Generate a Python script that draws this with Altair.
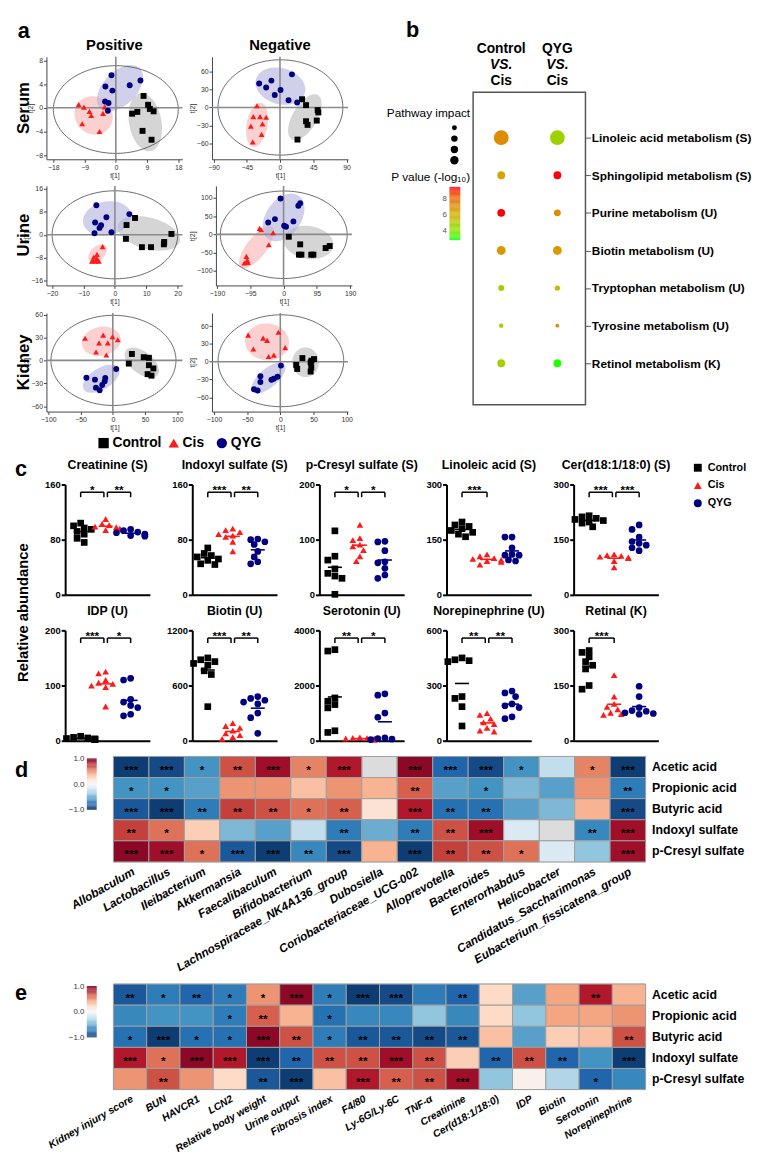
import altair as alt
import numpy as np
import pandas as pd

FONT = "Liberation Sans"
GROUPS = ["Control", "Cis", "QYG"]
G_COLORS = ["#000000", "#ff1a1a", "#000080"]
G_SHAPES = ["square", "triangle-up", "circle"]
FILL_COLORS = {"Control": "#b9b9b9", "Cis": "#f6b0b0", "QYG": "#b0b0dc"}

# ---------------- panel a : score plots (t[1], t[2]) ----------------
SERUM_POS = {
    "Control": [(8.0, 2.0), (9.3, 0.5), (9.8, -0.2), (10.9, -0.6), (6.2, -0.7), (4.7, -1.0), (7.7, -3.9), (10.3, -5.4)],
    "Cis": [(-10.7, 0.55), (-9.2, 0.1), (-7.6, -0.6), (-7.1, -1.3), (-9.7, -2.7), (-4.7, -4.0), (-3.7, -0.95), (-3.2, 0.15)],
    "QYG": [(-1.25, 5.5), (-3.0, 3.6), (-1.0, 2.9), (4.0, 3.8), (7.1, 4.6), (-3.1, 1.05), (-2.1, 0.8), (-2.3, -0.5)],
}
SERUM_NEG = {
    "Control": [(29.9, 13.8), (35.3, 3.9), (51, -4.4), (51.9, -8.3), (35.3, -23.1), (37.3, -29.2), (49.8, -22), (23.7, -53.9)],
    "Cis": [(-31.1, 2.8), (-36.1, -15.4), (-27, -15.4), (-18.7, -16.5), (-39.4, -31.4), (-23.7, -27.5), (-24.9, -45.1), (-36.9, -57.8)],
    "QYG": [(-28.2, 40.2), (-18.7, 33.6), (-11.6, 45.1), (-7.1, 20.9), (0.8, 29.2), (16.2, 55.6), (11.6, 12.1), (23.2, 8.3)],
}
URINE_POS = {
    "Control": [(6.4, 5.85), (3.7, 3.4), (3.5, -1.4), (8.6, -4.3), (11.5, -4.3), (15.7, -2.5), (15.6, -3.3), (18.0, 0.3)],
    "Cis": [(-3.9, -4.1), (-5.7, -6.8), (-6.7, -7.7), (-7.3, -9.2), (-6.1, -9.2), (-5.1, -9.2), (-5.7, -8.3), (-6.9, -9.0)],
    "QYG": [(-5.9, 10.3), (-6.3, 4.3), (-2.7, 6.1), (-4.4, 3.3), (-4.9, 2.4), (-6.5, 0.55), (-1.1, 0.9), (4.6, 7.2)],
}
URINE_NEG = {
    "Control": [(14.9, -6.4), (47.4, -27.3), (43.9, -55.6), (50.9, -55.6), (79, -55.6), (85, -55.6), (120, -37.4), (131.6, -31.9)],
    "Cis": [(-68.4, 16.4), (-64, 12.8), (-29.8, 4.6), (-42.1, -28.3), (-106, -60.2), (-103.5, -71.1), (-112, -78.4), (-101.8, -76.6)],
    "QYG": [(-8.8, 98.5), (42.1, 78.4), (47.4, 85.7), (-24.6, 41.9), (-43.9, 32.8), (1.8, 23.7), (7, 21), (28, 35.6)],
}
KIDNEY_POS = {
    "Control": [(29.6, 8.4), (24.8, -4.2), (48, 4.2), (56, 3.4), (56, -6.3), (63, -10.5), (54, -18), (60, -20)],
    "Cis": [(-43, 29), (-15, 33), (-21.4, 23), (-7.8, 23), (-0.5, 31), (7.8, 27), (-26, 11), (-10, 7)],
    "QYG": [(-41, -22.7), (-27.7, -25.2), (-11.7, -23), (-12.6, -27.3), (-16.5, -32.3), (-26.2, -35.7), (-20.4, -39), (5.3, -11.3)],
}
KIDNEY_NEG = {
    "Control": [(33.3, 6.1), (24, -5.5), (25.4, -12.2), (45.7, -1.1), (50.8, 4.4), (46.7, -9.4), (45.7, -16.6), (47, 1.7)],
    "Cis": [(-48.5, 44.8), (-40.6, 21.5), (-25.9, 39.8), (-19.9, 35.9), (-2.8, 49.7), (7.4, 23.8), (-17.6, 8.8), (-9.7, 11)],
    "QYG": [(0.9, -6.6), (-30, -24.3), (-30, -34.3), (-39.7, -46.4), (-34.2, -48.6), (-13.4, -30.4), (-9.7, -28.7), (-4.2, -25.4)],
}
# group ellipses: centre (cx, cy) and two semi-axis vectors (ux, uy), (vx, vy)
SERUM_POS_ELL = {"Control": (8.5, -2.45, 2.0, -4.8, 4.4, 1.0), "Cis": (-6.4, -1.3, 5.5, -0.5, 0.4, 3.2),
                 "QYG": (1.2, 3.3, 6.5, 2.5, -1.3, 3.0)}
SERUM_NEG_ELL = {"Control": (33.6, -16.5, 15, 38.5, 17, -4), "Cis": (-31, -29, 5, 37, 14, -2),
                 "QYG": (0.6, 35.8, 33, -12, 7, 29)}
URINE_POS_ELL = {"Control": (10.8, 0.5, 9.8, -3.0, 1.5, 5.2), "Cis": (-5.5, -6.5, 2.2, 3.0, 2.0, -1.2),
                 "QYG": (-2.5, 5.7, 7.6, 1.5, -0.8, 5.8)}
URINE_NEG_ELL = {"Control": (71, -22, 71, -8, 3, 45), "Cis": (-77, -35.6, 45, 55, -22, 17),
                 "QYG": (0, 46.5, 45, 58, -39, 30)}
KIDNEY_POS_ELL = {"Control": (45, -3, 26, -14, 6, 14), "Cis": (-18, 25, 30, 3, -1, 19),
                  "QYG": (-18, -24, 28, 12, 4, -14)}
KIDNEY_NEG_ELL = {"Control": (38, -1, 20, 0, 0, 25), "Cis": (-20, 33.4, 33, -3, 2, 31),
                  "QYG": (-17.8, -27.3, 24, 23, -9, 12)}
SERUM_POS_HOT = (0.0, -0.3, 18.0, 7.4)
SERUM_NEG_HOT = (0.6, 0.0, 84.5, 80.0)
URINE_POS_HOT = (0.0, 0.0, 20.0, 15.3)
URINE_NEG_HOT = (0.5, -1.0, 181.0, 120.0)
KIDNEY_POS_HOT = (1.0, 0.0, 97.0, 59.0)
KIDNEY_NEG_HOT = (0.9, 1.6, 94.7, 77.4)

# ---------------- panel b : pathway bubbles ----------------
PATHWAYS = ["Linoleic acid metabolism (S)", "Sphingolipid metabolism (S)", "Purine metabolism (U)",
            "Biotin metabolism (U)", "Tryptophan metabolism (U)", "Tyrosine metabolism (U)", "Retinol metabolism (K)"]
COMPARISONS = ["Control VS. Cis", "QYG VS. Cis"]
IMPACT_CONTROL = [1.0, 0.28, 0.28, 0.36, 0.16, 0.09, 0.28]
IMPACT_QYG = [1.0, 0.28, 0.22, 0.36, 0.13, 0.07, 0.28]
LOGP_CONTROL = [7.0, 6.3, 9.2, 6.6, 4.6, 4.6, 4.7]
LOGP_QYG = [4.6, 9.2, 7.0, 6.6, 5.5, 7.0, 3.0]
IMPACT_KEY = [0.11, 0.19, 0.25, 0.32]
LOGP_KEY_RANGE = [2.75, 9.5]

# ---------------- panel c : relative abundance ----------------
DOT_TITLES = ["Creatinine (S)", "Indoxyl sulfate (S)", "p-Cresyl sulfate (S)", "Linoleic acid (S)", "Cer(d18:1/18:0) (S)",
              "IDP (U)", "Biotin (U)", "Serotonin (U)", "Norepinephrine (U)", "Retinal (K)"]
DOT_YMAX = [160, 160, 200, 300, 300, 200, 1200, 4000, 600, 300]
DOT_CONTROL = [
    [104, 100, 97, 95, 92, 88, 82, 76],
    [68, 60, 57, 55, 52, 50, 45, 44],
    [116, 70, 63, 47, 39, 34, 30, 1],
    [198, 190, 186, 180, 175, 170, 165, 158],
    [215, 212, 208, 205, 202, 198, 195, 185],
    [8, 6, 5, 4, 3, 3, 2, 2],
    [900, 880, 860, 840, 820, 760, 720, 370],
    [3300, 3250, 1550, 1430, 1310, 1190, 360, 300],
    [450, 440, 435, 430, 240, 230, 185, 80],
    [245, 240, 228, 215, 205, 195, 150, 140],
]
DOT_CIS = [
    [110, 103, 101, 99, 98, 96, 95, 94],
    [96, 94, 91, 88, 86, 84, 77, 63],
    [127, 103, 99, 91, 88, 81, 70, 61],
    [110, 105, 100, 98, 95, 92, 90, 82],
    [110, 108, 106, 104, 102, 100, 92, 75],
    [125, 122, 110, 105, 103, 100, 97, 62],
    [190, 160, 140, 110, 80, 60, 40, 20],
    [120, 100, 90, 80, 70, 60, 50, 40],
    [150, 140, 120, 100, 90, 70, 55, 50],
    [178, 120, 100, 92, 85, 76, 72, 70],
]
DOT_QYG = [
    [95, 93, 91, 90, 88, 87, 86, 85],
    [81, 80, 77, 73, 63, 55, 48, 45],
    [97, 96, 80, 60, 58, 48, 36, 30],
    [157, 157, 128, 110, 108, 108, 95, 92],
    [190, 178, 157, 145, 140, 135, 128, 120],
    [113, 110, 75, 70, 64, 60, 48, 45],
    [480, 460, 440, 420, 400, 300, 250, 80],
    [1700, 1650, 1000, 850, 100, 80, 60, 40],
    [270, 260, 240, 200, 190, 180, 130, 120],
    [148, 120, 90, 82, 80, 76, 74, 72],
]
# significance: (label, group a, group b)
DOT_SIGS = [
    [("*", 0, 1), ("**", 1, 2)],
    [("***", 0, 1), ("**", 1, 2)],
    [("*", 0, 1), ("*", 1, 2)],
    [("***", 0, 1)],
    [("***", 0, 1), ("***", 1, 2)],
    [("***", 0, 1), ("*", 1, 2)],
    [("***", 0, 1), ("**", 1, 2)],
    [("**", 0, 1), ("*", 1, 2)],
    [("**", 0, 1), ("**", 1, 2)],
    [("***", 0, 1)],
]

# ---------------- panels d / e : correlation heatmaps ----------------
HEAT_ROWS = ["Acetic acid", "Propionic acid", "Butyric acid", "Indoxyl sulfate", "p-Cresyl sulfate"]
D_COLS = ["Allobaculum", "Lactobacillus", "Ileibacterium", "Akkermansia", "Faecalibaculum", "Bifidobacterium",
          "Lachnospiraceae_NK4A136_group", "Dubosiella", "Coriobacteriaceae_UCG-002", "Alloprevotella", "Bacteroides",
          "Enterorhabdus", "Helicobacter", "Candidatus_Saccharimonas", "Eubacterium_fissicatena_group"]
D_VALUES = [
    [-0.95, -0.9, -0.6, 0.65, 0.85, 0.5, 0.8, None, 0.9, -0.8, -0.9, -0.6, -0.25, 0.5, -0.95],
    [-0.6, -0.6, -0.55, 0.45, 0.45, 0.3, 0.45, 0.35, 0.6, -0.55, -0.6, -0.45, -0.55, 0.45, -0.7],
    [-0.85, -0.95, -0.7, 0.7, 0.65, 0.55, 0.6, 0.15, 0.8, -0.75, -0.75, -0.55, -0.45, 0.35, -0.9],
    [0.7, 0.55, 0.25, -0.45, -0.55, -0.25, -0.7, -0.5, -0.7, 0.65, 0.85, -0.15, None, -0.65, 0.85],
    [0.9, 0.85, 0.55, -0.85, -0.95, -0.65, -0.9, 0.35, -0.95, 0.7, 0.65, 0.55, -0.15, -0.4, 0.85],
]
D_STARS = [
    ["***", "***", "*", "**", "***", "*", "***", "", "***", "***", "***", "*", "", "*", "***"],
    ["*", "*", "", "", "", "", "", "", "**", "", "*", "", "", "", "**"],
    ["***", "***", "**", "**", "**", "*", "**", "", "***", "**", "**", "", "", "", "***"],
    ["**", "*", "", "", "", "", "**", "", "**", "**", "***", "", "", "**", "***"],
    ["***", "***", "*", "***", "***", "**", "***", "", "***", "**", "**", "*", "", "", "***"],
]
E_COLS = ["Kidney injury score", "BUN", "HAVCR1", "LCN2", "Relative body weight", "Urine output", "Fibrosis index",
          "F4/80", "Ly-6G/Ly-6C", "TNF-α", "Creatinine", "Cer(d18:1/18:0)", "IDP", "Biotin", "Serotonin", "Norepinephrine"]
E_VALUES = [
    [-0.85, -0.7, -0.8, -0.7, 0.45, 0.9, -0.7, -0.95, -0.9, -0.7, -0.8, 0.2, -0.55, 0.4, 0.8, 0.35],
    [-0.65, -0.6, -0.6, -0.7, 0.6, 0.35, -0.75, -0.65, -0.65, -0.4, -0.65, 0.2, -0.4, 0.4, 0.4, 0.45],
    [-0.75, -0.95, -0.75, -0.75, 0.9, 0.65, -0.7, -0.85, -0.85, -0.9, -0.85, 0.3, -0.55, 0.25, 0.3, 0.65],
    [0.8, 0.55, 0.9, 0.8, -0.95, -0.8, 0.65, 0.65, 0.85, 0.65, 0.25, -0.8, 0.65, -0.8, -0.6, -0.95],
    [0.45, 0.65, 0.45, 0.2, -0.85, -0.95, 0.3, 0.8, 0.6, 0.65, 0.85, -0.4, 0.05, -0.3, -0.8, -0.65],
]
E_STARS = [
    ["**", "*", "**", "*", "*", "***", "*", "***", "***", "", "**", "", "", "", "**", ""],
    ["", "", "", "*", "**", "", "*", "", "", "", "", "", "", "", "", ""],
    ["*", "***", "*", "*", "***", "**", "*", "**", "**", "**", "**", "", "", "", "", "**"],
    ["***", "*", "***", "***", "***", "**", "**", "**", "***", "**", "", "**", "**", "**", "", "***"],
    ["", "**", "", "", "**", "***", "", "***", "**", "**", "***", "", "", "", "*", ""],
]
HEAT_COLORS = ["#053061", "#2166ac", "#4393c3", "#92c5de", "#d1e5f0", "#f7f7f7",
               "#fddbc7", "#f4a582", "#d6604d", "#b2182b", "#67001f"]


# ======================= helpers =======================
def ell_area(cx, cy, ux, uy, vx, vy, n=70):
    r = float(np.hypot(ux, vx))
    phi = float(np.arctan2(vx, ux))
    s = np.cos(np.linspace(np.pi, 0, n))
    a = np.arccos(s)
    t1, t2 = phi + a, phi - a
    return pd.DataFrame({"t1": cx + r * s,
                         "t2": cy + uy * np.cos(t1) + vy * np.sin(t1),
                         "t2b": cy + uy * np.cos(t2) + vy * np.sin(t2)})


def ell_line(cx, cy, rx, ry, n=140):
    t = np.linspace(0, 2 * np.pi, n)
    return pd.DataFrame({"t1": cx + rx * np.cos(t), "t2": cy + ry * np.sin(t), "k": np.arange(n)})


def spacer(w=1, h=1):
    return alt.Chart(pd.DataFrame({"z": [0]})).mark_point(opacity=0).encode(
        x=alt.X("z:Q", axis=None), y=alt.Y("z:Q", axis=None)).properties(width=w, height=h)


def label(text, x, y, size, bold=True, angle=0, align="center", italic=False):
    kw = dict(fontSize=size, align=align, baseline="middle", color="black")
    if bold:
        kw["fontWeight"] = "bold"
    if angle:
        kw["angle"] = angle
    if italic:
        kw["fontStyle"] = "italic"
    return alt.Chart(pd.DataFrame({"t": [text]})).mark_text(**kw).encode(
        text="t:N", x=alt.value(x), y=alt.value(y))


GROUP_COLOR = alt.Color("Group:N", scale=alt.Scale(domain=GROUPS, range=G_COLORS), sort=GROUPS, legend=None)
GROUP_SHAPE = alt.Shape("Group:N", scale=alt.Scale(domain=GROUPS, range=G_SHAPES), sort=GROUPS, legend=None)
A_W = 138
A_TOP = 38  # room kept above the serum plots for the column headings


def pca_chart(pts, ells, hot, xdom, ydom, xt, yt, h=103, top=0, extra=()):
    ax_style = dict(labelFontSize=7, titleFontSize=7, titleFontWeight="normal", tickSize=3,
                    labelPadding=1, titlePadding=1, domainColor="#444", tickColor="#444",
                    labelColor="#333", titleColor="#333", grid=False, labelFlush=False)
    X = alt.X("t1:Q", scale=alt.Scale(domain=xdom, nice=False, zero=False),
              axis=alt.Axis(values=xt, title="t[1]", **ax_style))
    Y = alt.Y("t2:Q", scale=alt.Scale(domain=ydom, nice=False, zero=False, range=[h + top, top]),
              axis=alt.Axis(values=yt, title="t[2]", **ax_style))
    layers = []
    for g in GROUPS:
        layers.append(alt.Chart(ell_area(*ells[g])).mark_area(
            color=FILL_COLORS[g], opacity=0.6, orient="vertical").encode(x=X, y=Y, y2="t2b:Q"))
    layers.append(alt.Chart(ell_line(*hot)).mark_line(color="#444", strokeWidth=0.8).encode(
        x=X, y=Y, order="k:Q"))
    layers.append(alt.Chart(pd.DataFrame({"t1": [0.0], "t2": [ydom[0]], "t2b": [ydom[1]]})).mark_rule(
        color="#8a8a8a", strokeWidth=1.6).encode(x=X, y=Y, y2="t2b:Q"))
    layers.append(alt.Chart(pd.DataFrame({"t2": [0.0], "t1": [xdom[0]], "t1b": [xdom[1]]})).mark_rule(
        color="#8a8a8a", strokeWidth=1.6).encode(y=Y, x=X, x2="t1b:Q"))
    rows = [{"Group": g, "t1": a, "t2": b} for g in GROUPS for (a, b) in pts[g]]
    layers.append(alt.Chart(pd.DataFrame(rows)).mark_point(filled=True, size=36, opacity=1).encode(
        x=X, y=Y, color=GROUP_COLOR, shape=GROUP_SHAPE))
    layers.extend(extra)
    return alt.layer(*layers).properties(width=A_W, height=h + top)


def key_row(width, start, char_w, gap, font_size, sym_size, height):
    # a row of group keys; each key is placed after the text of the previous one
    xs, x = [], start
    for g in GROUPS:
        xs.append(x)
        x += len(g) * char_w + gap
    df = pd.DataFrame({"Group": GROUPS, "kx": xs})
    KX = alt.X("kx:Q", scale=alt.Scale(domain=[0, width], nice=False, zero=False), axis=None)
    pts = alt.Chart(df).mark_point(filled=True, size=sym_size, opacity=1).encode(
        x=KX, color=GROUP_COLOR, shape=GROUP_SHAPE)
    txt = alt.Chart(df).mark_text(align="left", dx=9, fontSize=font_size, fontWeight="bold", color="black").encode(
        x=KX, text="Group:N")
    return alt.layer(pts, txt).properties(width=width, height=height)


def key_column(width, height, y_first, y_last, font_size, sym_size, sym_x):
    df = pd.DataFrame({"Group": GROUPS})
    KY = alt.Y("Group:N", sort=GROUPS, scale=alt.Scale(type="point", domain=GROUPS, range=[y_first, y_last],
                                                       padding=0), axis=None)
    pts = alt.Chart(df).mark_point(filled=True, size=sym_size, opacity=1).encode(
        x=alt.value(sym_x), y=KY, color=GROUP_COLOR, shape=GROUP_SHAPE)
    txt = alt.Chart(df).mark_text(align="left", dx=10, fontSize=font_size, fontWeight="bold",
                                  color="black").encode(x=alt.value(sym_x), y=KY, text="Group:N")
    return alt.layer(pts, txt).properties(width=width, height=height)


def swarm(vals, ppu_y, ppu_x, d=6.0):
    vals = np.asarray(vals, dtype=float)
    order = np.argsort(-vals)
    placed, offs = [], np.zeros(len(vals))
    cands = [0, -1, 1, -2, 2, -3, 3, -4, 4]
    for i in order:
        yp = vals[i] * ppu_y
        xp = 0.0
        for c in cands:
            xp = c * d * 0.6
            if all((xp - px) ** 2 + (yp - py) ** 2 >= d * d for px, py in placed):
                break
        placed.append((xp, yp))
        offs[i] = xp / ppu_x
    return offs


PW, PH = 86, 112
XDOM = [-0.62, 2.77]


def dot_chart(k):
    ymax = DOT_YMAX[k]
    groups_vals = [DOT_CONTROL[k], DOT_CIS[k], DOT_QYG[k]]
    ppu_x = PW / (XDOM[1] - XDOM[0])
    ppu_y = PH / ymax
    rows = []
    for gi, (g, vals) in enumerate(zip(GROUPS, groups_vals)):
        offs = swarm(vals, ppu_y, ppu_x)
        for v, o in zip(vals, offs):
            rows.append({"Group": g, "x": gi + o, "value": v})
    df = pd.DataFrame(rows)
    X = alt.X("x:Q", scale=alt.Scale(domain=XDOM, nice=False, zero=False),
              axis=alt.Axis(title=None, labels=False, ticks=False, grid=False, domainWidth=2, domainColor="black"))
    Y = alt.Y("value:Q", scale=alt.Scale(domain=[0, ymax], nice=False),
              axis=alt.Axis(values=[0, ymax // 2, ymax], format="d", title=None, grid=False,
                            labelFontWeight="bold", labelFontSize=9.5, labelColor="black", domainWidth=2,
                            domainColor="black", tickColor="black", tickWidth=2, tickSize=4, labelPadding=1))
    layers = []
    means = []
    for gi, (g, vals) in enumerate(zip(GROUPS, groups_vals)):
        means.append({"Group": g, "x": gi - 0.28, "x2": gi + 0.28, "value": float(np.mean(vals))})
    mdf = pd.DataFrame(means)
    for g, c in zip(GROUPS, G_COLORS):
        layers.append(alt.Chart(mdf[mdf.Group == g]).mark_rule(color=c, strokeWidth=1.6).encode(
            x=X, x2="x2:Q", y=Y))
    layers.append(alt.Chart(df).mark_point(filled=True, size=46, opacity=1).encode(
        x=X, y=Y, color=GROUP_COLOR, shape=GROUP_SHAPE))
    sigs = DOT_SIGS[k]
    hb, lb = [], []
    yb = 0.93 * ymax
    ylow = 0.885 * ymax
    for lab, a, b in sigs:
        if len(sigs) == 2:
            x1, x2 = (a, b - 0.07) if a == 0 else (a + 0.07, b)
        else:
            x1, x2 = a, b
        hb.append({"x": x1, "x2": x2, "value": yb, "v2": yb})
        hb.append({"x": x1, "x2": x1, "value": ylow, "v2": yb})
        hb.append({"x": x2, "x2": x2, "value": ylow, "v2": yb})
        lb.append({"x": (x1 + x2) / 2, "value": yb, "s": lab})
    layers.append(alt.Chart(pd.DataFrame(hb)).mark_rule(color="black", strokeWidth=1.5).encode(
        x=X, x2="x2:Q", y=Y, y2="v2:Q"))
    layers.append(alt.Chart(pd.DataFrame(lb)).mark_text(fontSize=12, fontWeight="bold", baseline="alphabetic",
                                                          dy=2, color="black").encode(x=X, y=Y, text="s:N"))
    return alt.layer(*layers).properties(
        width=PW, height=PH, title=alt.TitleParams(DOT_TITLES[k], fontSize=12.5, fontWeight="bold", offset=8))


HEAT_SCALE = alt.Scale(domain=list(np.linspace(-1, 1, 11)), range=HEAT_COLORS)
HEAT_W = 540


def heatmap(cols, values, stars, letter, letter_x, letter_y, label_size):
    recs = []
    for ri, r in enumerate(HEAT_ROWS):
        for ci, c in enumerate(cols):
            recs.append({"col": c, "row": r, "v": values[ri][ci], "s": stars[ri][ci]})
    df = pd.DataFrame(recs)
    X = alt.X("col:N", sort=cols, scale=alt.Scale(paddingInner=0, paddingOuter=0),
              axis=alt.Axis(title=None, labelAngle=-30, labelFontStyle="italic", labelFontWeight="bold",
                            labelFontSize=label_size, labelColor="black", ticks=False, domain=False,
                            labelPadding=4, labelLimit=400))
    Y = alt.Y("row:N", sort=HEAT_ROWS, scale=alt.Scale(paddingInner=0, paddingOuter=0),
              axis=alt.Axis(title=None, orient="right", labelFontWeight="bold", labelFontSize=12.5,
                            labelColor="black", ticks=False, domain=False, labelPadding=6))
    bg = alt.Chart(df).mark_rect(color="#dcdcdc", stroke="#a0a0a0", strokeWidth=1).encode(x=X, y=Y)
    fg = alt.Chart(df).transform_filter("isValid(datum.v)").mark_rect(stroke="#a0a0a0", strokeWidth=1).encode(
        x=X, y=Y, color=alt.Color("v:Q", scale=HEAT_SCALE, legend=None))
    tx = alt.Chart(df).mark_text(fontSize=12, fontWeight="bold", dy=3, color="black").encode(x=X, y=Y, text="s:N")
    main = alt.layer(bg, fg, tx)
    # colour key drawn through the same colour scale
    steps = np.linspace(-1, 1, 61)
    kdf = pd.DataFrame({"v": steps[:-1], "v2": steps[1:]})
    key = alt.Chart(kdf).mark_rect().encode(
        x=alt.value(-27), x2=alt.value(-17),
        y=alt.Y("v:Q", scale=alt.Scale(domain=[-1, 1], range=[54, 2], nice=False, zero=False),
                axis=alt.Axis(orient="left", values=[-1, 0, 1], offset=28, domain=False, ticks=False, grid=False,
                              title=None, labelFontSize=8, labelColor="#333", labelPadding=2)),
        y2="v2:Q", color=alt.Color("v:Q", scale=HEAT_SCALE, legend=None))
    let = label(letter, letter_x, letter_y, 22, align="left")
    return alt.layer(main, key, let).resolve_scale(y="independent").properties(width=HEAT_W, height=107)


# ======================= panel a =======================
a_s_p = pca_chart(SERUM_POS, SERUM_POS_ELL, SERUM_POS_HOT, [-20, 19.2], [-8.7, 8.6],
                  [-18, -9, 0, 9, 18], [-8, -4, 0, 4, 8], h=104, top=A_TOP,
                  extra=[label("a", -29, 12, 22, align="left"), label("Positive", A_W / 2, 26, 15),
                         label("Serum", -23, A_TOP + 52, 17, angle=270)])
a_s_n = pca_chart(SERUM_NEG, SERUM_NEG_ELL, SERUM_NEG_HOT, [-92, 92], [-87, 85],
                  [-90, -45, 0, 45, 90], [-60, -30, 0, 30, 60], h=104, top=A_TOP,
                  extra=[label("Negative", A_W / 2, 26, 15)])
a_u_p = pca_chart(URINE_POS, URINE_POS_ELL, URINE_POS_HOT, [-21.8, 21.5], [-17.6, 17],
                  [-20, -10, 0, 10, 20], [-16, -8, 0, 8, 16], h=101,
                  extra=[label("Urine", -23, 50, 17, angle=270)])
a_u_n = pca_chart(URINE_NEG, URINE_NEG_ELL, URINE_NEG_HOT, [-193, 195], [-140, 133],
                  [-190, -95, 0, 95, 190], [-100, -50, 0, 50, 100], h=101)
a_k_p = pca_chart(KIDNEY_POS, KIDNEY_POS_ELL, KIDNEY_POS_HOT, [-103, 108], [-67, 62],
                  [-100, -50, 0, 50, 100], [-60, -30, 0, 30, 60], h=100,
                  extra=[label("Kidney", -23, 50, 17, angle=270)])
a_k_n = pca_chart(KIDNEY_NEG, KIDNEY_NEG_ELL, KIDNEY_NEG_HOT, [-103, 102], [-84, 82],
                  [-100, -50, 0, 50, 100], [-60, -30, 0, 30, 60], h=100)

row_s = alt.hconcat(a_s_p, a_s_n, spacing=5)
row_u = alt.hconcat(a_u_p, a_u_n, spacing=5)
row_k = alt.hconcat(a_k_p, a_k_n, spacing=5)
a_key = key_row(2 * A_W + 27, 58, 5.6, 32, 14, 110, 14)
panel_a = alt.vconcat(row_s, row_u, row_k, a_key, spacing=6)

# ======================= panel b =======================
brows = []
for p, ic, iq, lc, lq in zip(PATHWAYS, IMPACT_CONTROL, IMPACT_QYG, LOGP_CONTROL, LOGP_QYG):
    brows.append({"pathway": p, "cmp": COMPARISONS[0], "impact": ic, "logp": lc})
    brows.append({"pathway": p, "cmp": COMPARISONS[1], "impact": iq, "logp": lq})
bdf = pd.DataFrame(brows)
B_W, B_H = 114, 391
SIZE_SCALE = alt.Scale(domain=[0, 1], range=[0, 225])
LOGP_SCALE = alt.Scale(domain=[3, 4.5, 6, 7.5, 9], range=["#22ff00", "#99d400", "#d4ac00", "#e07c10", "#ff1a00"])
BX = alt.X("cmp:N", sort=COMPARISONS, scale=alt.Scale(type="point", padding=0.5), axis=None)
BY = alt.Y("pathway:N", sort=PATHWAYS, scale=alt.Scale(type="point", range=[101, 368]),
           axis=alt.Axis(title=None, orient="right", labelFontWeight="bold", labelFontSize=12,
                         labelColor="black", tickSize=5, tickColor="#555", domain=False, labelPadding=1,
                         labelLimit=400))
frame = alt.Chart(pd.DataFrame({"z": [0]})).mark_rect(fillOpacity=0, stroke="#555555", strokeWidth=1.5).encode(
    x=alt.value(0), x2=alt.value(B_W), y=alt.value(74), y2=alt.value(B_H))
bubbles = alt.Chart(bdf).mark_circle(opacity=1).encode(
    x=BX, y=BY,
    size=alt.Size("impact:Q", scale=SIZE_SCALE, legend=None),
    color=alt.Color("logp:Q", scale=LOGP_SCALE, legend=None))
hdr = pd.DataFrame({"cmp": COMPARISONS, "l1": ["Control", "QYG"], "l2": ["VS.", "VS."], "l3": ["Cis", "Cis"]})
h1 = alt.Chart(hdr).mark_text(fontSize=14, fontWeight="bold").encode(x=BX, y=alt.value(30), text="l1:N")
h2 = alt.Chart(hdr).mark_text(fontSize=14, fontWeight="bold", fontStyle="italic").encode(
    x=BX, y=alt.value(46), text="l2:N")
h3 = alt.Chart(hdr).mark_text(fontSize=14, fontWeight="bold").encode(x=BX, y=alt.value(63), text="l3:N")
b_main = alt.layer(frame, bubbles, h1, h2, h3,
                   label("Pathway impact", -3, 95, 12, bold=False, align="right"),
                   label("P value (-log\u2081\u2080)", -3, 160, 12, bold=False, align="right"),
                   label("b", -68, 11, 22, align="left"))
# key for pathway impact: dots sized through the same size scale
kdf = pd.DataFrame({"impact": IMPACT_KEY, "k": list(range(len(IMPACT_KEY)))})
size_key = alt.Chart(kdf).mark_circle(color="black", opacity=1).encode(
    x=alt.value(-19), y=alt.Y("k:O", scale=alt.Scale(range=[110, 143], padding=0), axis=None),
    size=alt.Size("impact:Q", scale=SIZE_SCALE, legend=None))
# key for P value: colour bar drawn through the same colour scale
steps = np.linspace(LOGP_KEY_RANGE[0], LOGP_KEY_RANGE[1], 61)
gdf = pd.DataFrame({"logp": steps[:-1], "logp2": steps[1:]})
color_key = alt.Chart(gdf).mark_rect().encode(
    x=alt.value(-24), x2=alt.value(-13),
    y=alt.Y("logp:Q", scale=alt.Scale(domain=LOGP_KEY_RANGE, range=[224, 170], nice=False, zero=False),
            axis=alt.Axis(orient="left", values=[4, 6, 8], offset=25, domain=False, ticks=False, grid=False,
                          title=None, labelFontSize=8, labelColor="#555", labelPadding=2)),
    y2="logp2:Q",
    color=alt.Color("logp:Q", scale=LOGP_SCALE, legend=None))
panel_b = alt.layer(b_main, size_key, color_key).resolve_scale(y="independent").properties(
    width=B_W, height=B_H)

top_row = alt.hconcat(panel_a, panel_b, spacing=30).resolve_scale(
    color="independent", shape="independent", size="independent")

# ======================= panel c =======================
dots = [dot_chart(k) for k in range(10)]
c_grid = alt.concat(*dots, columns=5, spacing={"row": 36, "column": 43}, bounds="flush")
c_side = label("Relative abundance", 8, 130, 15, angle=270).properties(
    width=16, height=260, title=alt.TitleParams("c", anchor="start", fontSize=22, fontWeight="bold", offset=4))
c_key = key_column(66, 60, -17, 19, 11, 64, 27)
panel_c = alt.hconcat(alt.hconcat(c_side, c_grid, spacing=14), c_key, spacing=0)

# ======================= panels d / e =======================
panel_d = heatmap(D_COLS, D_VALUES, D_STARS, "d", -100, 14, 12)
panel_e = heatmap(E_COLS, E_VALUES, E_STARS, "e", -100, 9, 10.5)


def left_aligned(block):
    return alt.hconcat(spacer(), block, spacing=0)


chart = alt.vconcat(left_aligned(top_row), left_aligned(panel_c), left_aligned(panel_d),
                    left_aligned(panel_e), spacing=8).resolve_scale(
    color="independent", shape="independent", size="independent").configure(
    font=FONT).configure_view(strokeWidth=0).properties(
    padding={"left": 0, "top": 0, "right": 0, "bottom": 0})

chart.save("out.html", embed_options={"renderer": "svg", "actions": False})
